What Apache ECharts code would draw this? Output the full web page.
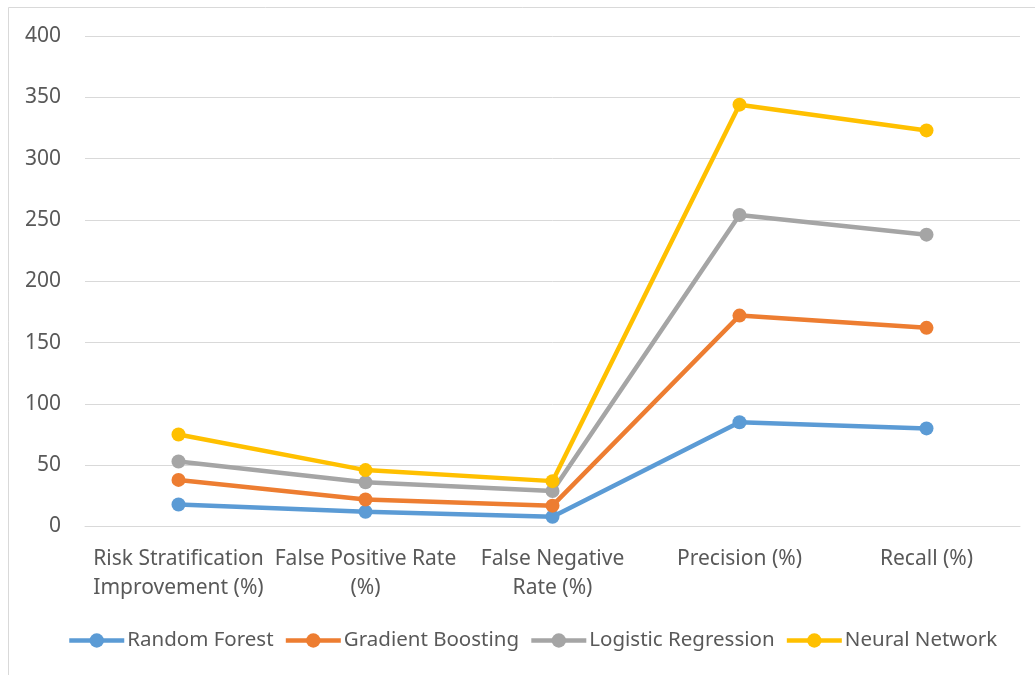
<!DOCTYPE html>
<html><head><meta charset="utf-8">
<script src="https://cdn.jsdelivr.net/npm/echarts@6/dist/echarts.min.js"></script>
<style>html,body{margin:0;padding:0;background:#fff}#c{width:1035px;height:675px}</style>
</head><body><div id="c"></div>
<script>
const categories = ["Risk Stratification\nImprovement (%)", "False Positive Rate\n(%)", "False Negative\nRate (%)", "Precision (%)", "Recall (%)"];
const seriesNames = ["Random Forest", "Gradient Boosting", "Logistic Regression", "Neural Network"];
const randomForest = [18, 12, 8, 85, 80];
const gradientBoosting = [20, 10, 9, 87, 82];
const logisticRegression = [15, 14, 12, 82, 76];
const neuralNetwork = [22, 10, 8, 90, 85];
const yTicks = [0, 50, 100, 150, 200, 250, 300, 350, 400];

const colors = ["#5B9BD5", "#ED7D31", "#A5A5A5", "#FFC000"];
const values = [randomForest, gradientBoosting, logisticRegression, neuralNetwork];
const FONT = "Noto Sans";
const chart = echarts.init(document.getElementById('c'), null, {renderer: 'canvas'});
chart.setOption({
  animation: false,
  backgroundColor: '#fff',
  textStyle: {fontFamily: FONT},
  graphic: [{type: 'rect', shape: {x: 8.5, y: 7.5, width: 1200, height: 1000}, style: {fill: 'none', stroke: '#D9D9D9', lineWidth: 1}, z: -1}],
  grid: {left: 85, right: 15, top: 36, bottom: 148.5, containLabel: false},
  legend: {
    top: 625, left: 62, itemWidth: 55, itemHeight: 18, itemGap: 10,
    lineStyle: {width: 4.5},
    textStyle: {color: '#595959', fontSize: 20.5, fontFamily: FONT, padding: [0, 0, 0, -2]},
    data: seriesNames
  },
  xAxis: {
    type: 'category', data: categories, boundaryGap: true,
    axisLine: {lineStyle: {color: '#D9D9D9', width: 1}},
    axisTick: {show: false},
    axisLabel: {color: '#595959', fontSize: 21, lineHeight: 29, margin: 18.5, interval: 0, fontFamily: FONT}
  },
  yAxis: {
    type: 'value', min: 0, max: 400, interval: 50,
    axisLine: {show: false}, axisTick: {show: false},
    splitLine: {lineStyle: {color: '#D9D9D9', width: 1}},
    axisLabel: {color: '#595959', fontSize: 21, margin: 24, fontFamily: FONT,
      customValues: yTicks}
  },
  series: seriesNames.map((n, i) => ({
    name: n, type: 'line', stack: 'total', data: values[i],
    symbol: 'circle', symbolSize: 14, showAllSymbol: true,
    lineStyle: {color: colors[i], width: 4.5},
    itemStyle: {color: colors[i]},
    z: 2 + i
  }))
});
</script></body></html>
